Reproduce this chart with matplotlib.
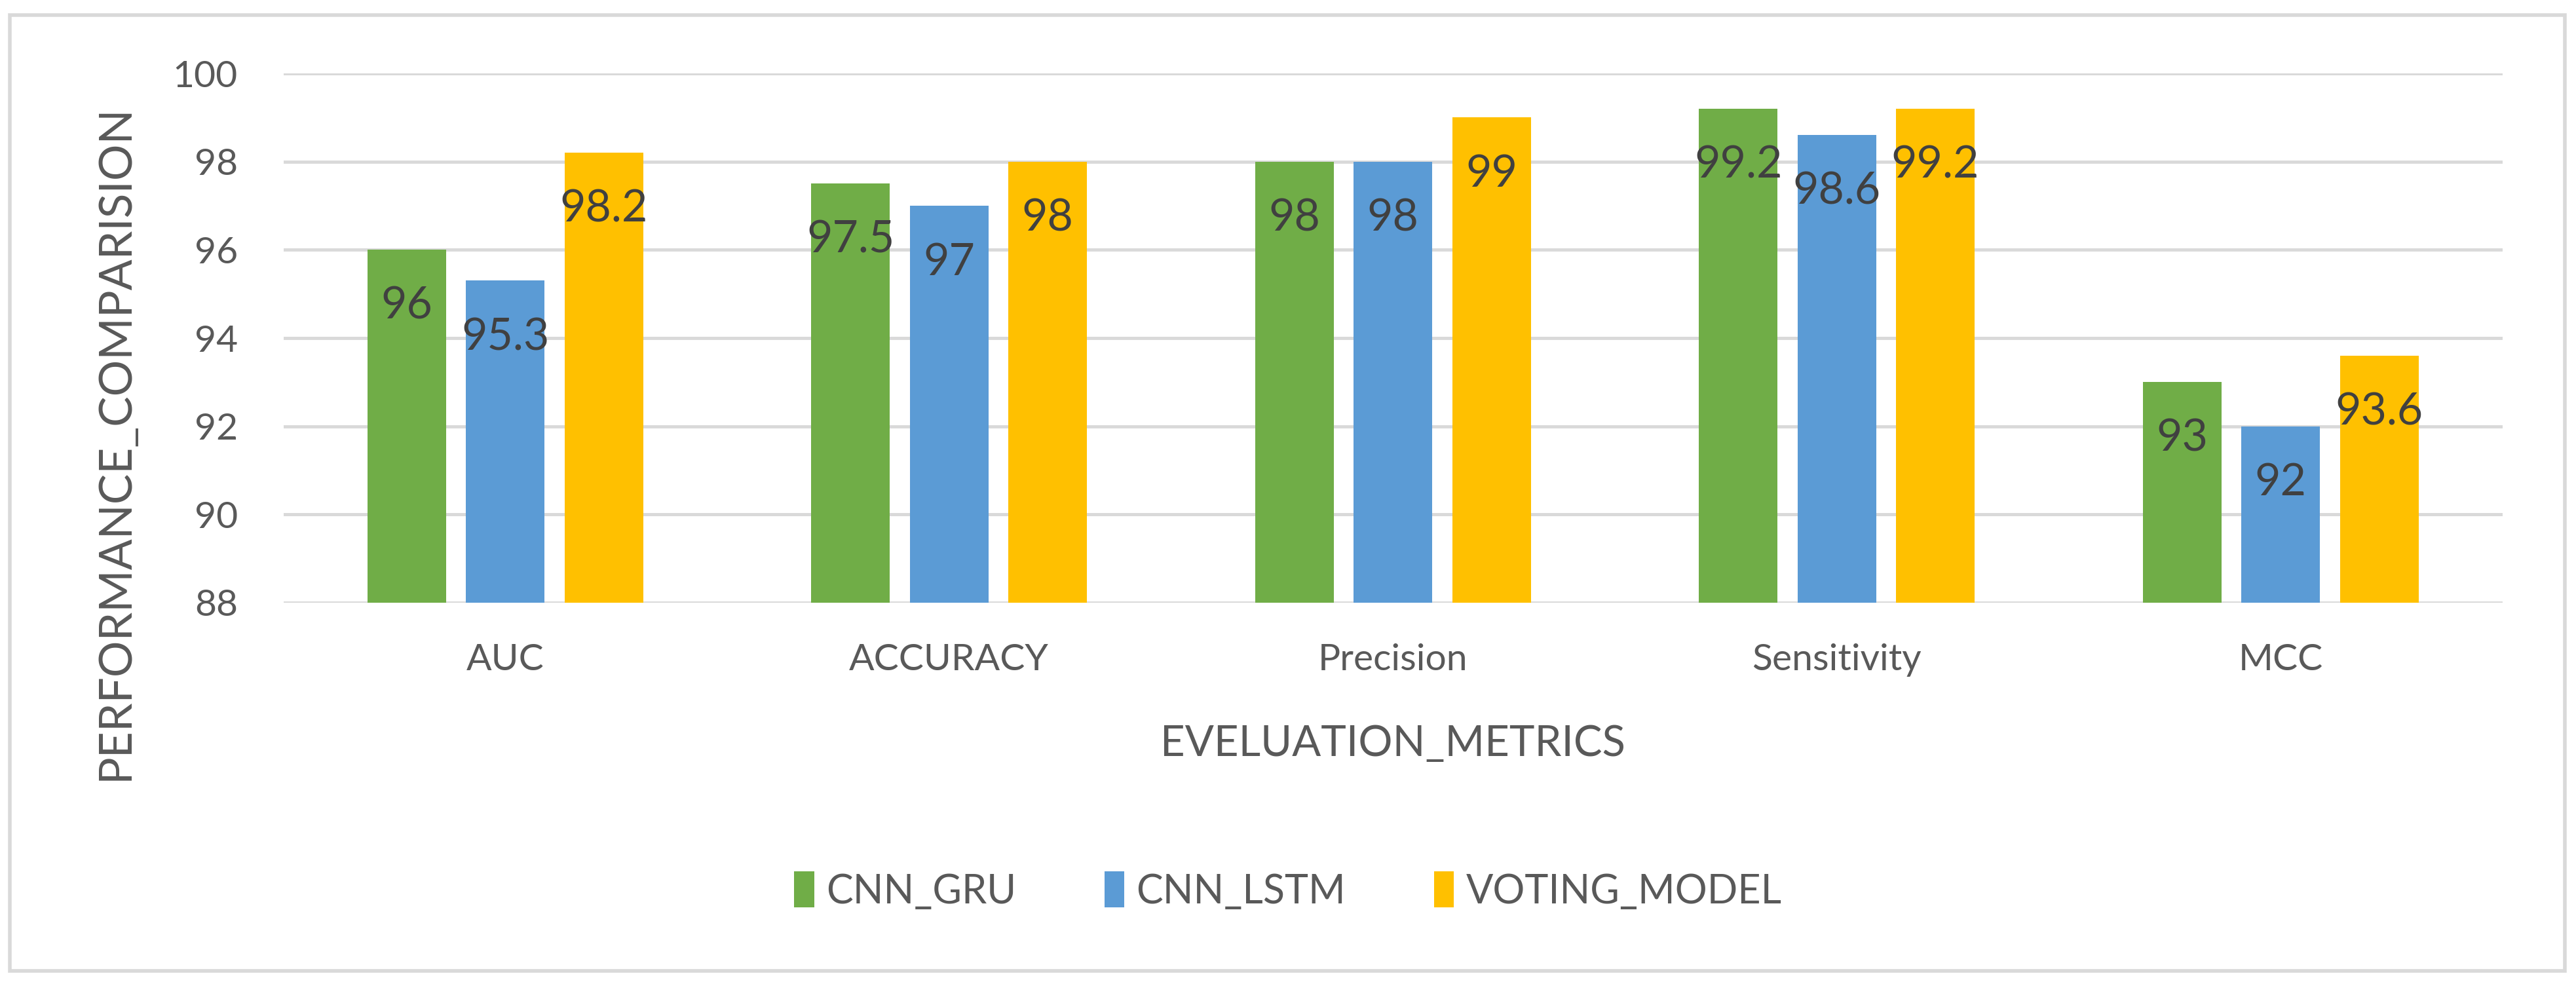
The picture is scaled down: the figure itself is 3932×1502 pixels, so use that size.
import matplotlib

matplotlib.use("Agg")

import matplotlib.pyplot as plt
import numpy as np
from matplotlib.patches import Rectangle

categories = ["AUC", "ACCURACY", "Precision", "Sensitivity", "MCC"]
series_names = ["CNN_GRU", "CNN_LSTM", "VOTING_MODEL"]
cnn_gru = [96, 97.5, 98, 99.2, 93]
cnn_lstm = [95.3, 97, 98, 98.6, 92]
voting_model = [98.2, 98, 99, 99.2, 93.6]
y_ticks = [88, 90, 92, 94, 96, 98, 100]

colors = ["#70AD47", "#5B9BD5", "#FFC000"]
text_color = "#595959"
label_color = "#404040"
grid_color = "#D9D9D9"

plt.rcParams["font.family"] = ["Lato", "DejaVu Sans"]

fig = plt.figure(figsize=(39.32, 15.02), dpi=100)
ax = fig.add_axes([0.110, 0.3875, 0.8615, 0.5379])

x = np.arange(len(categories))
width = 0.177
step = 0.222
all_series = [cnn_gru, cnn_lstm, voting_model]

for i, (name, values) in enumerate(zip(series_names, all_series)):
    bars = ax.bar(x + (i - 1) * step, values, width, color=colors[i], label=name, zorder=2)
    for bar, v in zip(bars, values):
        ax.annotate(
            f"{v:g}",
            xy=(bar.get_x() + bar.get_width() / 2, v),
            xytext=(0, -40),
            textcoords="offset points",
            ha="center",
            va="top",
            fontsize=49,
            color=label_color,
            zorder=3,
        )

ax.set_ylim(88, 100)
ax.set_xlim(-0.5, len(categories) - 0.5)
ax.set_yticks(y_ticks)
ax.set_xticks(x)
ax.set_xticklabels(categories)
ax.tick_params(axis="both", length=0, labelsize=41, colors=text_color)
ax.tick_params(axis="y", pad=50)
ax.tick_params(axis="x", pad=45)
ax.grid(axis="y", color=grid_color, linewidth=3.5, zorder=0)
ax.set_axisbelow(True)
for side in ["left", "right", "top", "bottom"]:
    ax.spines[side].set_visible(False)

ax.set_xlabel("EVELUATION_METRICS", fontsize=47, color=text_color, labelpad=52)
ax.set_ylabel("PERFORMANCE_COMPARISION", fontsize=50, color=text_color)
ax.yaxis.set_label_coords(-0.0665, 0.303)

ax.legend(
    loc="center",
    bbox_to_anchor=(0.5, 1 - 1360 / 1502),
    bbox_transform=fig.transFigure,
    ncol=3,
    frameon=False,
    fontsize=44,
    labelcolor=text_color,
    handlelength=0.5,
    handleheight=1.0,
    handletextpad=0.3,
    columnspacing=2.2,
)

fig.patches.append(
    Rectangle(
        (15 / 3932, 1 - 1482 / 1502),
        (3915 - 15) / 3932,
        (1482 - 23) / 1502,
        transform=fig.transFigure,
        fill=False,
        edgecolor=grid_color,
        linewidth=4,
    )
)

fig.savefig("out.png", dpi=100, facecolor="white")
plt.close(fig)
